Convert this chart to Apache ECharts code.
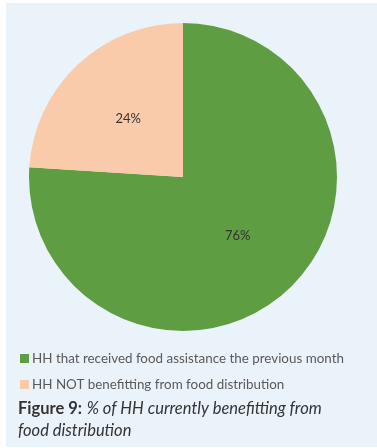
<!DOCTYPE html>
<html>
<head>
<meta charset="utf-8">
<script src="https://cdn.jsdelivr.net/npm/echarts@6/dist/echarts.min.js"></script>
<style>
  html, body { margin: 0; padding: 0; background: #fff; }
  #pie { width: 377px; height: 448px; }
</style>
</head>
<body>
<div id="pie"></div>
<script>
// data
const categories = ['HH that received food assistance the previous month', 'HH NOT benefitting from food distribution']
const shares = [76, 24]
const colors = ['#5f9d42', '#f9cbab']

const myChart = echarts.init(document.getElementById('pie'))

const arr = categories.map((name, i) => ({ name: name, value: shares[i], itemStyle: { color: colors[i] } }))

const option = {
  backgroundColor: '#fff',
  textStyle: { fontFamily: 'Lato' },
  graphic: [
    {
      type: 'rect',
      z: -10,
      shape: { x: 6, y: 3, width: 371, height: 444 },
      style: { fill: '#ebf3fa' }
    }
  ],
  title: {
    left: 13,
    top: 393,
    text: '{b|Figure 9:} {i|% of HH currently benefitting from}\n{i|food distribution}',
    textStyle: {
      fontWeight: 'normal',
      rich: {
        b: { fontFamily: 'Lato', fontWeight: 'bold', fontSize: 16.5, color: '#333', lineHeight: 22 },
        i: { fontFamily: 'Lato', fontStyle: 'italic', fontWeight: 'normal', fontSize: 16.5, color: '#333', lineHeight: 22 }
      }
    }
  },
  legend: {
    orient: 'vertical',
    left: 15,
    top: 347,
    icon: 'rect',
    itemWidth: 9,
    itemHeight: 9,
    itemGap: 13,
    textStyle: { fontFamily: 'Lato', fontSize: 13.4, color: '#595959', padding: [0, 0, 0, -2] },
    data: categories
  },
  series: [
    {
      type: 'pie',
      center: [183, 177],
      radius: 154,
      startAngle: 90,
      clockwise: true,
      silent: true,
      label: {
        show: true,
        position: 'inside',
        formatter: '{c}%',
        fontFamily: 'Lato',
        fontSize: 13,
        color: '#333'
      },
      labelLine: { show: false },
      data: arr
    }
  ]
}

myChart.setOption(option)
</script>
</body>
</html>
